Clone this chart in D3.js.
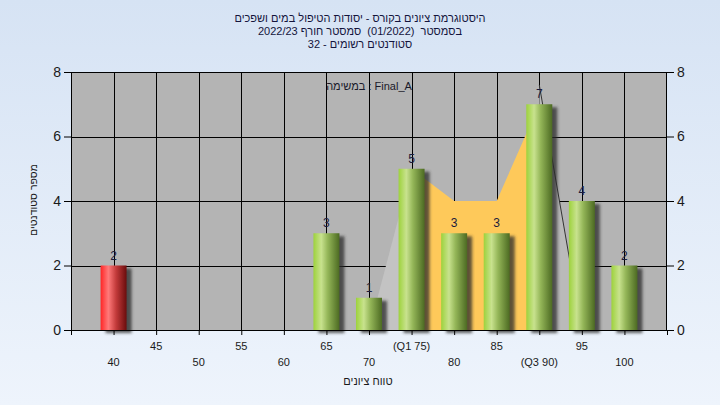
<!DOCTYPE html>
<html><head><meta charset="utf-8">
<script src="https://cdn.jsdelivr.net/npm/d3@7"></script>
<style>
html,body{margin:0;padding:0;}
body{width:720px;height:405px;overflow:hidden;}
text{font-family:"Liberation Sans",Arial,sans-serif;white-space:pre;}
</style></head><body>
<svg id="c" width="720" height="405"></svg>
<script>
// ---- data ----
const grades = [40,45,50,55,60,65,70,75,80,85,90,95,100];
const counts = [2,0,0,0,0,3,1,5,3,3,7,4,2];
const tickLabels = ["40","45","50","55","60","65","70","(Q1 75)","80","85","(Q3 90)","95","100"];
const yTicks = [0,2,4,6,8];
const iqrGrades = [75,80,85,90];
const iqrValues = [5,4,4,7];
const lowTailGrades = [70,75];
const lowTailValues = [0,5];
const highTailGrades = [90,95];
const highTailValues = [7.6,0];
const failLimit = 55;
const titleLines = [
  "היסטוגרמת ציונים בקורס - יסודות הטיפול במים ושפכים",
  "בסמסטר  (01/2022)  סמסטר חורף 2022/23",
  "סטודנטים רשומים - 32"
];
const legendText = "במשימה : Final_A";
const xTitle = "טווח ציונים";
const yTitle = "מספר סטודנטים";

const svg = d3.select("#c");
const defs = svg.append("defs");
const bg = defs.append("linearGradient").attr("id","bg").attr("x1",0).attr("y1",0).attr("x2",0).attr("y2",1);
bg.append("stop").attr("offset","0%").attr("stop-color","#d6e3f4");
bg.append("stop").attr("offset","100%").attr("stop-color","#eef4fc");
function barGrad(id, stops){
  const g = defs.append("linearGradient").attr("id",id).attr("x1",0).attr("y1",0).attr("x2",1).attr("y2",0);
  stops.forEach(s=>g.append("stop").attr("offset",s[0]).attr("stop-color",s[1]));
}
barGrad("gGreen",[["0%","#9dd23c"],["30%","#c8e28e"],["55%","#94b658"],["100%","#4c6a22"]]);
barGrad("gRed",[["0%","#ff2626"],["30%","#ff7a7a"],["60%","#c23a3a"],["100%","#6a0c0c"]]);
defs.append("filter").attr("id","blur").attr("x","-50%").attr("y","-50%").attr("width","200%").attr("height","200%")
  .append("feGaussianBlur").attr("stdDeviation",1.8);

svg.append("rect").attr("width",720).attr("height",405).attr("fill","url(#bg)");

const L=71, R=667, T=72, B=330;
const x = d3.scaleLinear().domain([35,105]).range([L,R]);
const y = d3.scaleLinear().domain([0,8]).range([B,T]);

svg.append("rect").attr("x",L).attr("y",T).attr("width",R-L).attr("height",B-T).attr("fill","#b4b4b4");

// gridlines
const grid = svg.append("g").attr("stroke","#000").attr("stroke-width",1);
grades.forEach(g=>grid.append("line").attr("x1",Math.round(x(g))+0.5).attr("x2",Math.round(x(g))+0.5).attr("y1",T).attr("y2",B));
yTicks.forEach(t=>grid.append("line").attr("x1",L).attr("x2",R).attr("y1",Math.round(y(t))+0.5).attr("y2",Math.round(y(t))+0.5));

// overlays
const area = d3.area().x(d=>x(d[0])).y0(y(0)).y1(d=>y(d[1]));
const line = d3.line().x(d=>x(d[0])).y(d=>y(d[1]));
const low = lowTailGrades.map((g,i)=>[g,lowTailValues[i]]);
const high = highTailGrades.map((g,i)=>[g,highTailValues[i]]);
const iqr = iqrGrades.map((g,i)=>[g,iqrValues[i]]);
svg.append("path").attr("d",area(low)).attr("fill","#c3c3c3");
svg.append("path").attr("d",area(high)).attr("fill","#bababa");
svg.append("path").attr("d",area(iqr)).attr("fill","#fec95a");
svg.append("path").attr("d",line(high)).attr("fill","none").attr("stroke","#333").attr("stroke-width",1);

// plot border
svg.append("rect").attr("x",L+0.5).attr("y",T+0.5).attr("width",R-L-1).attr("height",B-T).attr("fill","none").attr("stroke","#000");

// bars
const bw = 26;
const data = grades.map((g,i)=>({g,v:counts[i]})).filter(d=>d.v>0);
const bars = svg.append("g");
bars.selectAll("rect.sh").data(data).join("rect")
  .attr("x",d=>x(d.g)-bw/2+5).attr("y",d=>y(d.v)+3).attr("width",bw).attr("height",d=>y(0)-y(d.v))
  .attr("fill","#2a2a2a").attr("opacity",0.75).attr("filter","url(#blur)");
bars.selectAll("rect.b").data(data).join("rect")
  .attr("x",d=>x(d.g)-bw/2).attr("y",d=>y(d.v)).attr("width",bw).attr("height",d=>y(0)-y(d.v))
  .attr("fill",d=>d.g<failLimit?"url(#gRed)":"url(#gGreen)");
bars.selectAll("text").data(data).join("text")
  .attr("x",d=>x(d.g)).attr("y",d=>y(d.v)-6).attr("text-anchor","middle")
  .attr("font-size",12).attr("fill","#1c1c3c").text(d=>d.v);

// axes
const yl = d3.axisLeft(y).tickValues(yTicks).tickSize(7).tickPadding(3);
const yr = d3.axisRight(y).tickValues(yTicks).tickSize(7).tickPadding(3);
const gl = svg.append("g").attr("transform",`translate(${L},0)`).call(yl);
const gr = svg.append("g").attr("transform",`translate(${R},0)`).call(yr);
[gl,gr].forEach(g=>{g.select(".domain").remove();g.selectAll("line").attr("stroke","#000");
  g.selectAll("text").attr("font-size",14).attr("fill","#1a1a1a").attr("font-family","Liberation Sans, Arial, sans-serif");});

const xa = d3.axisBottom(x).tickValues([35].concat(grades)).tickSize(5).tickFormat("");
const gx = svg.append("g").attr("transform",`translate(0,${B})`).call(xa);
gx.select(".domain").attr("stroke","#000");
gx.selectAll("line").attr("stroke","#000");
svg.append("g").selectAll("text").data(grades).join("text")
  .attr("x",d=>x(d)).attr("y",(d,i)=>i%2===1?350:366).attr("text-anchor","middle")
  .attr("font-size",11).attr("fill","#1a1a1a").text((d,i)=>tickLabels[i]);

// titles and axis names (natural bidi rendering)
svg.append("g").selectAll("text").data(titleLines).join("text")
  .attr("x",360).attr("y",(d,i)=>22+i*13).attr("text-anchor","middle")
  .attr("font-size",11).attr("fill","#14143c").text(d=>d);
svg.append("text").attr("x",369).attr("y",90).attr("text-anchor","middle").attr("font-size",11)
  .attr("fill","#1a1a2a").text(legendText);
svg.append("text").attr("x",368).attr("y",385).attr("text-anchor","middle").attr("font-size",11)
  .attr("fill","#1a1a1a").text(xTitle);
svg.append("text").attr("transform","translate(37,200) rotate(-90)").attr("text-anchor","middle").attr("font-size",10.5)
  .attr("fill","#1a1a1a").text(yTitle);
</script></body></html>
